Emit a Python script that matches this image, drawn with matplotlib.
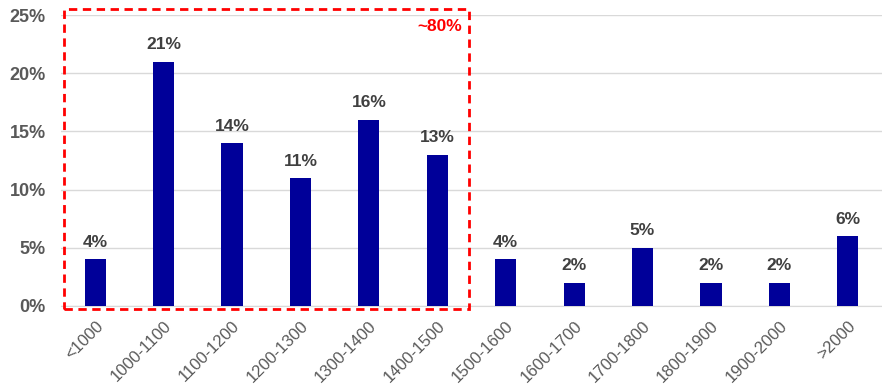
import matplotlib
matplotlib.use("Agg")
import matplotlib.pyplot as plt
from matplotlib.patches import Rectangle
from matplotlib.transforms import ScaledTranslation

categories = ["<1000", "1000-1100", "1100-1200", "1200-1300", "1300-1400", "1400-1500",
              "1500-1600", "1600-1700", "1700-1800", "1800-1900", "1900-2000", ">2000"]
values = [4, 21, 14, 11, 16, 13, 4, 2, 5, 2, 2, 6]
yticks = [0, 5, 10, 15, 20, 25]
ytick_labels = ["0%", "5%", "10%", "15%", "20%", "25%"]
box_label = "~80%"

plt.rcParams['font.family'] = ['Liberation Sans', 'DejaVu Sans']

fig = plt.figure(figsize=(8.82, 3.87), dpi=100)
ax = fig.add_axes([61/882, 1-306/387, 821/882, 291/387])

x = list(range(len(categories)))
ax.bar(x, values, width=0.31, color="#000099", zorder=3)
for xi, v in zip(x, values):
    ax.text(xi, v + 0.8, f"{v}%", ha="center", va="bottom", fontsize=12.5,
            fontweight="bold", color="#404040")

ax.set_xlim(-0.5, len(categories) - 0.5)
ax.set_ylim(0, 25)
ax.set_yticks(yticks)
ax.set_yticklabels(ytick_labels, fontsize=13, fontweight="bold", color="#595959")
ax.set_xticks(x)
ax.set_xticklabels(categories, rotation=45, ha="right", rotation_mode="anchor",
                   fontsize=12, color="#595959")
offset = ScaledTranslation(-4/100, 0, fig.dpi_scale_trans)
for lbl in ax.get_xticklabels():
    lbl.set_transform(lbl.get_transform() + offset)
ax.tick_params(axis="y", length=0, pad=11)
ax.tick_params(axis="x", length=0, pad=9)
ax.grid(axis="y", color="#d9d9d9", linewidth=1, zorder=0)
for s in ["top", "right", "left"]:
    ax.spines[s].set_visible(False)
ax.spines["bottom"].set_color("#d9d9d9")

rect = Rectangle((-0.455, -0.26), 5.925, 25.76, fill=False, edgecolor="#ff0000",
                 linestyle=(0, (3, 2)), linewidth=2, clip_on=False, zorder=4)
ax.add_patch(rect)
ax.text(5.37, 24.0, box_label, ha="right", va="center", fontsize=12.5,
        fontweight="bold", color="#ff0000")

fig.savefig("out.png", dpi=100)
